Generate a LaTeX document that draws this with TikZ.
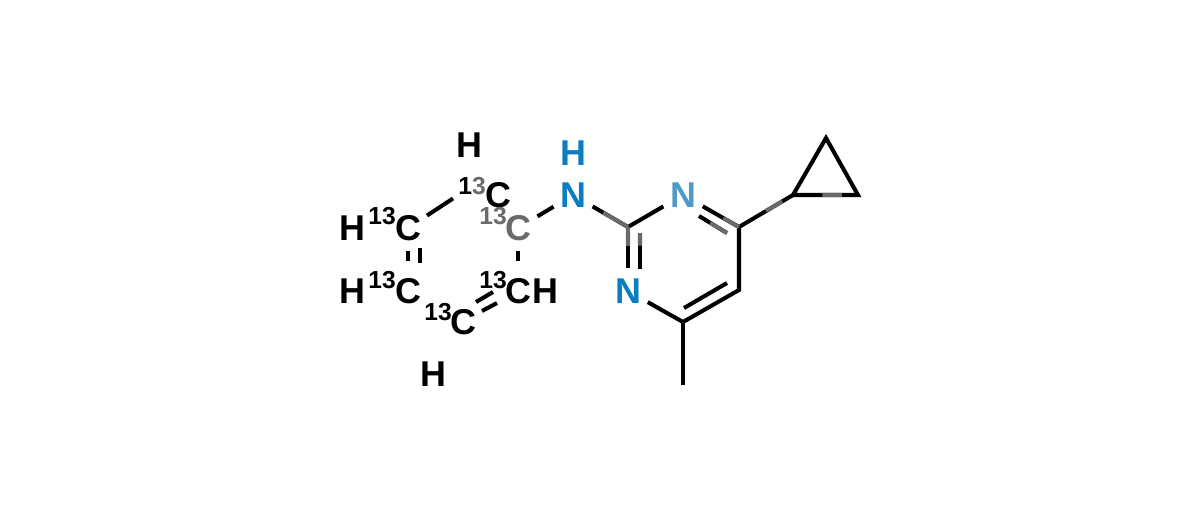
\documentclass[tikz,border=0pt]{standalone}
\usepackage{fontspec}
\setmainfont{Liberation Sans}
\usetikzlibrary{calc}
\definecolor{nblue}{HTML}{0A7DC0}
\definecolor{nlight}{HTML}{4E9BC8}
\definecolor{fadegray}{HTML}{6A6A6A}
\tikzset{
  atom/.style={circle,inner sep=0pt,minimum size=0.44cm,text=black,font=\fontsize{10.2pt}{12pt}\selectfont\bfseries},
  iso/.style={circle,inner sep=0pt,minimum size=0.44cm,text=black,font=\fontsize{7pt}{8pt}\selectfont\bfseries},
  bond/.style={line width=1.15pt,black},
  fadebond/.style={line width=1.15pt,fadegray},
}
\begin{document}
\begin{tikzpicture}[x=0.01cm,y=-0.01cm]
    \useasboundingbox (0,0) rectangle (1200,511);
    % labelled ring
    \node[atom] (hTop) at (469,145) {H};
    \node[iso] (isoTop) at (472,186) {1{\color{fadegray}3}};
    \node[atom] (cTop) at (498,195) {C};
    \node[iso] (isoIpso) at (493,216) {{\color{fadegray}13}};
    \node[atom,text=fadegray] (cIpso) at (518,228) {C};
    \node[atom] (hLeft) at (352,228) {H};
    \node[iso] (isoLeft) at (382,216) {13};
    \node[atom] (cLeft) at (408,228) {C};
    \node[atom] (hLow) at (352,291) {H};
    \node[iso] (isoLow) at (382,280) {13};
    \node[atom] (cLow) at (408,291) {C};
    \node[iso] (isoRight) at (493,280) {13};
    \node[atom] (cRight) at (518,291) {C};
    \node[atom] (hRight) at (545,291) {H};
    \node[iso] (isoBot) at (438,312) {13};
    \node[atom] (cBot) at (463,322) {C};
    \node[atom] (hBot) at (433,374) {H};
    % pyrimidine
    \node[atom,text=nblue] (hAmine) at (573,153) {H};
    \node[atom,text=nblue] (nAmine) at (573,195) {N};
    \node[atom,text=nlight] (nUp) at (683,195) {N};
    \node[atom,text=nblue] (nDown) at (628,291) {N};
    \coordinate (c2) at (628,227);
    \coordinate (c4) at (739,227);
    \coordinate (c5) at (739,290);
    \coordinate (c6) at (683,322);
    \coordinate (me) at (683,385);
    \coordinate (cpA) at (793,195);
    \coordinate (cpB) at (826,138);
    \coordinate (cpC) at (858,195);
    % inner lines of the double bonds
    \coordinate (inA) at (420,248);
    \coordinate (inB) at (420,263);
    \coordinate (inC) at (476,302);
    \coordinate (inD) at (493,292);
    \coordinate (inE) at (482,311);
    \coordinate (inF) at (497,303);
    \coordinate (inG) at (640,233);
    \coordinate (inH) at (640,269);
    \coordinate (inI) at (699,216);
    \coordinate (inJ) at (727,233);
    \coordinate (inK) at (727,283);
    \coordinate (inL) at (684,308);
    % bonds
    \draw[bond] (cLeft) -- (isoTop);
    \draw[bond,shorten >=0.07cm] (cLeft) -- (cLow);
    \draw[bond] (inA) -- (inB);
    \draw[bond,shorten >=0.07cm] (cIpso) -- (cRight);
    \draw[bond] (inC) -- (inD);
    \draw[bond] (inE) -- (inF);
    \draw[bond] (cIpso) -- (nAmine);
    \draw[bond] (nAmine) -- (c2);
    \draw[bond] (c2) -- (nUp);
    \draw[bond] (nUp) -- (c4);
    \draw[bond] (inI) -- (inJ);
    \draw[bond] (c2) -- (nDown);
    \draw[bond] (inG) -- (inH);
    \draw[bond] (nDown) -- (c6);
    \draw[bond,line cap=round] (c6) -- (c5) -- (c4);
    \draw[bond] (inK) -- (inL);
    \draw[bond] (c6) -- (me);
    \draw[bond] (c4) -- (cpA);
    \draw[bond,line join=miter] (cpA) -- (cpB) -- (cpC) -- cycle;
    % washed out stretches
    \draw[fadebond] (c2) -- ($(c2)!0.45!(nAmine)$);
    \draw[fadebond] (c2) -- ($(c2)!0.3!(nDown)$);
    \draw[fadebond] (inG) -- ($(inG)!0.35!(inH)$);
    \draw[fadebond] (c4) -- ($(c4)!0.28!(nUp)$);
    \draw[fadebond] (inJ) -- ($(inJ)!0.6!(inI)$);
    \draw[fadebond] ($(c4)!0.5!(cpA)$) -- ($(c4)!0.8!(cpA)$);
    \draw[fadebond] ($(cpA)!0.45!(cpC)$) -- ($(cpA)!0.75!(cpC)$);
\end{tikzpicture}
\end{document}
